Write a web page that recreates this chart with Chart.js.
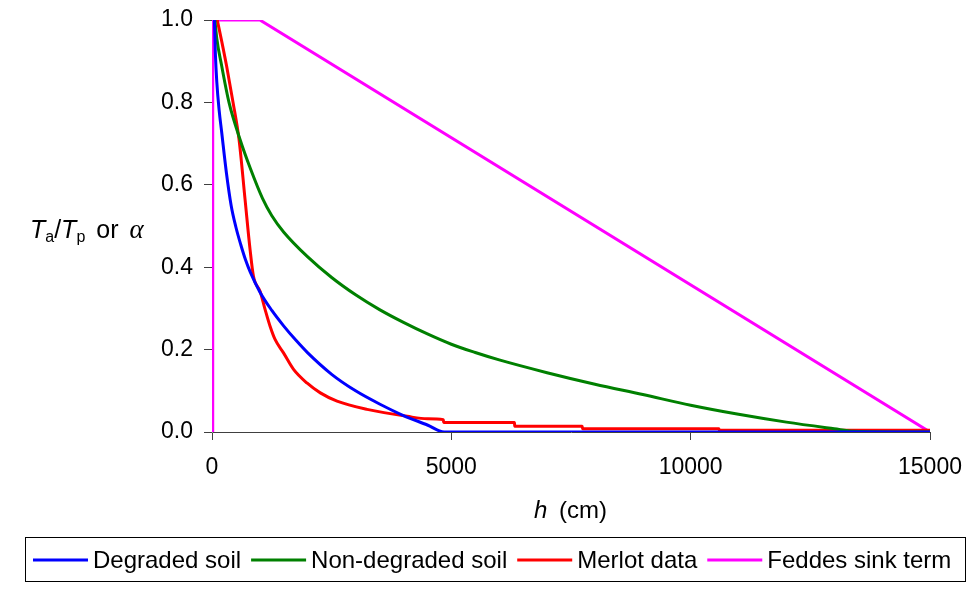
<!DOCTYPE html>
<html>
<head>
<meta charset="utf-8">
<script src="https://cdn.jsdelivr.net/npm/chart.js@4"></script>
<style>
  html, body { margin: 0; padding: 0; background: #fff; }
  #wrap { width: 968px; height: 598px; }
</style>
</head>
<body>
<div id="wrap"><canvas id="chart" width="968" height="598"></canvas></div>
<script>
// pressure head h (cm) and reduction factor
const degradedH = [50, 70, 100, 150, 200, 300, 400, 500, 600, 700, 800, 1000, 1250, 1500, 1750, 2000, 2500, 3000, 3500, 4000, 4500, 4850, 15000];
const degradedA = [1.0, 0.92, 0.85, 0.78, 0.73, 0.63, 0.55, 0.497, 0.455, 0.418, 0.388, 0.34, 0.295, 0.257, 0.223, 0.192, 0.14, 0.1, 0.068, 0.04, 0.017, 0.0, 0.0];

const nonDegradedH = [60, 100, 200, 355, 586, 800, 1055, 1250, 1500, 2000, 2500, 3000, 3500, 4000, 4500, 5000, 5500, 6000, 7000, 8000, 9000, 10000, 11000, 12000, 13000, 13400, 15000];
const nonDegradedA = [1.0, 0.955, 0.89, 0.8, 0.71, 0.64, 0.567, 0.525, 0.485, 0.425, 0.375, 0.333, 0.297, 0.266, 0.238, 0.213, 0.193, 0.175, 0.144, 0.116, 0.091, 0.065, 0.043, 0.024, 0.008, 0.002, 0.0];

const merlotH = [110, 200, 307, 440, 565, 691, 796, 866, 1006, 1110, 1215, 1320, 1494, 1704, 1983, 2263, 2612, 3240, 4078, 4500, 4833, 4840, 6318, 6325, 7734, 7741, 10590, 10597, 15000];
const merlotA = [1.0, 0.95, 0.887, 0.8, 0.71, 0.564, 0.442, 0.378, 0.341, 0.297, 0.256, 0.224, 0.192, 0.152, 0.119, 0.095, 0.075, 0.055, 0.038, 0.032, 0.03, 0.023, 0.023, 0.014, 0.014, 0.008, 0.008, 0.004, 0.004];

const feddesH = [0, 15, 1000, 15000];
const feddesA = [0.0, 1.0, 1.0, 0.0];

const xTicks = [0, 5000, 10000, 15000];
const yTicks = [0, 0.2, 0.4, 0.6, 0.8, 1.0];

const FONT = "'Liberation Sans', Arial, sans-serif";

function pts(xs, ys) {
    return xs.map((x, i) => ({ x: x, y: ys[i] }));
}

// axis titles with italics / subscripts and the boxed legend, drawn by hand
const decorations = {
    id: 'decorations',
    afterDraw(chart) {
        const c = chart.ctx;
        c.save();
        c.fillStyle = '#000';
        c.textBaseline = 'alphabetic';
        c.textAlign = 'left';

        // y title: Ta/Tp or alpha
        let x = 30;
        const yb = 238;
        const parts = [
            { t: 'T', f: 'italic 25px ' + FONT, dy: 0, gap: 0 },
            { t: 'a', f: '16px ' + FONT, dy: 4, gap: 0 },
            { t: '/', f: '25px ' + FONT, dy: 0, gap: 0 },
            { t: 'T', f: 'italic 25px ' + FONT, dy: 0, gap: 0 },
            { t: 'p', f: '16px ' + FONT, dy: 4, gap: 4 },
            { t: ' or ', f: '25px ' + FONT, dy: 0, gap: 4 },
            { t: 'α', f: 'italic 27px "Liberation Serif", serif', dy: 0, gap: 0 }
        ];
        parts.forEach(p => {
            c.font = p.f;
            c.fillText(p.t, x, yb + p.dy);
            x += c.measureText(p.t).width + p.gap;
        });

        // x title: h (cm)
        c.font = 'italic 24px ' + FONT;
        c.fillText('h', 534, 518);
        c.font = '24px ' + FONT;
        c.fillText('(cm)', 559, 518);

        // legend
        const boxL = 25, boxR = 965, boxT = 537, boxB = 581;
        c.strokeStyle = '#000';
        c.lineWidth = 1;
        c.strokeRect(boxL + 0.5, boxT + 0.5, boxR - boxL, boxB - boxT);
        const ly = (boxT + boxB) / 2 + 1;
        c.font = '24px ' + FONT;
        c.textBaseline = 'middle';
        let lx = 33;
        chart.data.datasets.forEach(ds => {
            c.strokeStyle = ds.borderColor;
            c.lineWidth = 3;
            c.beginPath();
            c.moveTo(lx, ly);
            c.lineTo(lx + 55, ly);
            c.stroke();
            lx += 60;
            c.fillText(ds.label, lx, ly + 1);
            lx += c.measureText(ds.label).width + 10;
        });
        c.restore();
    }
};

function noPad(s) {
    s.paddingLeft = 0; s.paddingRight = 0; s.paddingTop = 0; s.paddingBottom = 0;
}

const ctx = document.getElementById('chart').getContext('2d');
const chart = new Chart(ctx, {
    type: 'scatter',
    data: {
        datasets: [
            { label: 'Degraded soil', data: pts(degradedH, degradedA), borderColor: '#0000ff', cubicInterpolationMode: 'monotone' },
            { label: 'Non-degraded soil', data: pts(nonDegradedH, nonDegradedA), borderColor: '#008000', cubicInterpolationMode: 'monotone' },
            { label: 'Merlot data', data: pts(merlotH, merlotA), borderColor: '#ff0000', cubicInterpolationMode: 'monotone' },
            { label: 'Feddes sink term', data: pts(feddesH, feddesA), borderColor: '#ff00ff', tension: 0 }
        ].map(d => Object.assign(d, { showLine: true, borderWidth: 3, pointRadius: 0, backgroundColor: d.borderColor }))
    },
    options: {
        responsive: false,
        animation: false,
        layout: { padding: { left: 0, right: 38, top: 20, bottom: 0 } },
        plugins: { legend: { display: false }, tooltip: { enabled: false } },
        scales: {
            x: {
                type: 'linear', min: 0, max: 15000,
                afterFit: s => { s.height = 166; noPad(s); },
                afterBuildTicks: s => { s.ticks = xTicks.map(v => ({ value: v })); },
                grid: { drawOnChartArea: false, drawTicks: true, tickLength: 8, color: '#404040' },
                border: { color: '#404040', width: 1 },
                ticks: { color: '#000', font: { family: FONT, size: 23 }, padding: 14, maxRotation: 0, callback: v => String(v) }
            },
            y: {
                type: 'linear', min: 0, max: 1,
                afterFit: s => { s.width = 212; noPad(s); },
                afterBuildTicks: s => { s.ticks = yTicks.map(v => ({ value: v })); },
                grid: { drawOnChartArea: false, drawTicks: true, tickLength: 8, color: '#404040' },
                border: { color: '#909090', width: 1 },
                ticks: { color: '#000', font: { family: FONT, size: 23 }, padding: 11, callback: v => v.toFixed(1) }
            }
        }
    },
    plugins: [decorations]
});
</script>
</body>
</html>
